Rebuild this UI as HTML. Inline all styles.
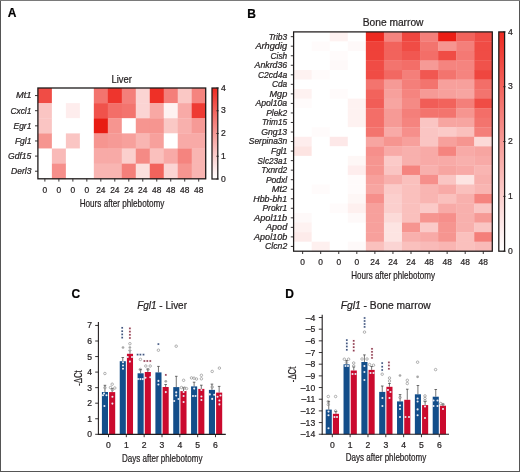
<!DOCTYPE html>
<html><head><meta charset="utf-8"><style>
html,body{margin:0;padding:0;background:#fff;}
body{width:520px;height:472px;overflow:hidden;}
svg{display:block;font-family:"Liberation Sans",sans-serif;will-change:transform;}
text{stroke:#231f20;stroke-width:0.22px;paint-order:stroke;}
</style></head><body>
<svg width="520" height="472" viewBox="0 0 520 472" fill="#231f20">
<rect x="0" y="0" width="520" height="472" fill="#fff"/>
<rect x="37.90" y="88.00" width="14.28" height="15.43" fill="#f04c45"/>
<rect x="51.88" y="88.00" width="14.28" height="15.43" fill="#ffffff"/>
<rect x="65.87" y="88.00" width="14.28" height="15.43" fill="#ffffff"/>
<rect x="79.85" y="88.00" width="14.28" height="15.43" fill="#ffffff"/>
<rect x="93.83" y="88.00" width="14.28" height="15.43" fill="#f3746e"/>
<rect x="107.82" y="88.00" width="14.28" height="15.43" fill="#ee352d"/>
<rect x="121.80" y="88.00" width="14.28" height="15.43" fill="#f47f7a"/>
<rect x="135.78" y="88.00" width="14.28" height="15.43" fill="#fbd4d3"/>
<rect x="149.77" y="88.00" width="14.28" height="15.43" fill="#ee3027"/>
<rect x="163.75" y="88.00" width="14.28" height="15.43" fill="#f47f7a"/>
<rect x="177.73" y="88.00" width="14.28" height="15.43" fill="#fac8c5"/>
<rect x="191.72" y="88.00" width="14.28" height="15.43" fill="#f5847f"/>
<rect x="37.90" y="103.13" width="14.28" height="15.43" fill="#fac5c3"/>
<rect x="51.88" y="103.13" width="14.28" height="15.43" fill="#ffffff"/>
<rect x="65.87" y="103.13" width="14.28" height="15.43" fill="#feeded"/>
<rect x="79.85" y="103.13" width="14.28" height="15.43" fill="#ffffff"/>
<rect x="93.83" y="103.13" width="14.28" height="15.43" fill="#f0524b"/>
<rect x="107.82" y="103.13" width="14.28" height="15.43" fill="#f36e68"/>
<rect x="121.80" y="103.13" width="14.28" height="15.43" fill="#f3746e"/>
<rect x="135.78" y="103.13" width="14.28" height="15.43" fill="#fbd4d3"/>
<rect x="149.77" y="103.13" width="14.28" height="15.43" fill="#f8a8a4"/>
<rect x="163.75" y="103.13" width="14.28" height="15.43" fill="#fef2f1"/>
<rect x="177.73" y="103.13" width="14.28" height="15.43" fill="#f8aaa7"/>
<rect x="191.72" y="103.13" width="14.28" height="15.43" fill="#ee3b33"/>
<rect x="37.90" y="118.27" width="14.28" height="15.43" fill="#fac5c3"/>
<rect x="51.88" y="118.27" width="14.28" height="15.43" fill="#ffffff"/>
<rect x="65.87" y="118.27" width="14.28" height="15.43" fill="#ffffff"/>
<rect x="79.85" y="118.27" width="14.28" height="15.43" fill="#ffffff"/>
<rect x="93.83" y="118.27" width="14.28" height="15.43" fill="#e81c13"/>
<rect x="107.82" y="118.27" width="14.28" height="15.43" fill="#f69590"/>
<rect x="121.80" y="118.27" width="14.28" height="15.43" fill="#ffffff"/>
<rect x="135.78" y="118.27" width="14.28" height="15.43" fill="#f69590"/>
<rect x="149.77" y="118.27" width="14.28" height="15.43" fill="#f69590"/>
<rect x="163.75" y="118.27" width="14.28" height="15.43" fill="#fac8c5"/>
<rect x="177.73" y="118.27" width="14.28" height="15.43" fill="#f8b0ad"/>
<rect x="191.72" y="118.27" width="14.28" height="15.43" fill="#f69a96"/>
<rect x="37.90" y="133.40" width="14.28" height="15.43" fill="#f69590"/>
<rect x="51.88" y="133.40" width="14.28" height="15.43" fill="#ffffff"/>
<rect x="65.87" y="133.40" width="14.28" height="15.43" fill="#fac5c3"/>
<rect x="79.85" y="133.40" width="14.28" height="15.43" fill="#ffffff"/>
<rect x="93.83" y="133.40" width="14.28" height="15.43" fill="#f69590"/>
<rect x="107.82" y="133.40" width="14.28" height="15.43" fill="#f69a96"/>
<rect x="121.80" y="133.40" width="14.28" height="15.43" fill="#f7a09c"/>
<rect x="135.78" y="133.40" width="14.28" height="15.43" fill="#f9b5b2"/>
<rect x="149.77" y="133.40" width="14.28" height="15.43" fill="#f7a09c"/>
<rect x="163.75" y="133.40" width="14.28" height="15.43" fill="#ffffff"/>
<rect x="177.73" y="133.40" width="14.28" height="15.43" fill="#f8aaa7"/>
<rect x="191.72" y="133.40" width="14.28" height="15.43" fill="#f8aaa7"/>
<rect x="37.90" y="148.53" width="14.28" height="15.43" fill="#ffffff"/>
<rect x="51.88" y="148.53" width="14.28" height="15.43" fill="#f9bab8"/>
<rect x="65.87" y="148.53" width="14.28" height="15.43" fill="#ffffff"/>
<rect x="79.85" y="148.53" width="14.28" height="15.43" fill="#ffffff"/>
<rect x="93.83" y="148.53" width="14.28" height="15.43" fill="#f8aaa7"/>
<rect x="107.82" y="148.53" width="14.28" height="15.43" fill="#f8aaa7"/>
<rect x="121.80" y="148.53" width="14.28" height="15.43" fill="#fbcfcd"/>
<rect x="135.78" y="148.53" width="14.28" height="15.43" fill="#f58a85"/>
<rect x="149.77" y="148.53" width="14.28" height="15.43" fill="#fac0bd"/>
<rect x="163.75" y="148.53" width="14.28" height="15.43" fill="#f8aaa7"/>
<rect x="177.73" y="148.53" width="14.28" height="15.43" fill="#f5847f"/>
<rect x="191.72" y="148.53" width="14.28" height="15.43" fill="#f9b5b2"/>
<rect x="37.90" y="163.67" width="14.28" height="15.43" fill="#ffffff"/>
<rect x="51.88" y="163.67" width="14.28" height="15.43" fill="#f68f8b"/>
<rect x="65.87" y="163.67" width="14.28" height="15.43" fill="#ffffff"/>
<rect x="79.85" y="163.67" width="14.28" height="15.43" fill="#ffffff"/>
<rect x="93.83" y="163.67" width="14.28" height="15.43" fill="#f9b5b2"/>
<rect x="107.82" y="163.67" width="14.28" height="15.43" fill="#f9b5b2"/>
<rect x="121.80" y="163.67" width="14.28" height="15.43" fill="#f47f7a"/>
<rect x="135.78" y="163.67" width="14.28" height="15.43" fill="#fcdfdd"/>
<rect x="149.77" y="163.67" width="14.28" height="15.43" fill="#f2635c"/>
<rect x="163.75" y="163.67" width="14.28" height="15.43" fill="#fbd4d3"/>
<rect x="177.73" y="163.67" width="14.28" height="15.43" fill="#f69590"/>
<rect x="191.72" y="163.67" width="14.28" height="15.43" fill="#f9b5b2"/>
<rect x="37.90" y="88.00" width="167.80" height="90.80" fill="none" stroke="#1e1a1a" stroke-width="1.3"/>
<line x1="35.00" y1="95.57" x2="37.90" y2="95.57" stroke="#231f20" stroke-width="0.9"/>
<text x="15.90" y="98.47" font-size="8.4" text-anchor="start" font-style="italic" textLength="15.50" lengthAdjust="spacingAndGlyphs">Mt1</text>
<line x1="35.00" y1="110.70" x2="37.90" y2="110.70" stroke="#231f20" stroke-width="0.9"/>
<text x="10.40" y="113.60" font-size="8.4" text-anchor="start" font-style="italic" textLength="21.00" lengthAdjust="spacingAndGlyphs">Cxcl1</text>
<line x1="35.00" y1="125.83" x2="37.90" y2="125.83" stroke="#231f20" stroke-width="0.9"/>
<text x="13.50" y="128.73" font-size="8.4" text-anchor="start" font-style="italic" textLength="17.90" lengthAdjust="spacingAndGlyphs">Egr1</text>
<line x1="35.00" y1="140.97" x2="37.90" y2="140.97" stroke="#231f20" stroke-width="0.9"/>
<text x="14.90" y="143.87" font-size="8.4" text-anchor="start" font-style="italic" textLength="16.50" lengthAdjust="spacingAndGlyphs">Fgl1</text>
<line x1="35.00" y1="156.10" x2="37.90" y2="156.10" stroke="#231f20" stroke-width="0.9"/>
<text x="8.00" y="159.00" font-size="8.4" text-anchor="start" font-style="italic" textLength="23.40" lengthAdjust="spacingAndGlyphs">Gdf15</text>
<line x1="35.00" y1="171.23" x2="37.90" y2="171.23" stroke="#231f20" stroke-width="0.9"/>
<text x="11.00" y="174.13" font-size="8.4" text-anchor="start" font-style="italic" textLength="20.40" lengthAdjust="spacingAndGlyphs">Derl3</text>
<line x1="44.89" y1="178.80" x2="44.89" y2="181.60" stroke="#231f20" stroke-width="0.9"/>
<text x="44.89" y="192.80" font-size="8.4" text-anchor="middle">0</text>
<line x1="58.88" y1="178.80" x2="58.88" y2="181.60" stroke="#231f20" stroke-width="0.9"/>
<text x="58.88" y="192.80" font-size="8.4" text-anchor="middle">0</text>
<line x1="72.86" y1="178.80" x2="72.86" y2="181.60" stroke="#231f20" stroke-width="0.9"/>
<text x="72.86" y="192.80" font-size="8.4" text-anchor="middle">0</text>
<line x1="86.84" y1="178.80" x2="86.84" y2="181.60" stroke="#231f20" stroke-width="0.9"/>
<text x="86.84" y="192.80" font-size="8.4" text-anchor="middle">0</text>
<line x1="100.82" y1="178.80" x2="100.82" y2="181.60" stroke="#231f20" stroke-width="0.9"/>
<text x="100.82" y="192.80" font-size="8.4" text-anchor="middle">24</text>
<line x1="114.81" y1="178.80" x2="114.81" y2="181.60" stroke="#231f20" stroke-width="0.9"/>
<text x="114.81" y="192.80" font-size="8.4" text-anchor="middle">24</text>
<line x1="128.79" y1="178.80" x2="128.79" y2="181.60" stroke="#231f20" stroke-width="0.9"/>
<text x="128.79" y="192.80" font-size="8.4" text-anchor="middle">24</text>
<line x1="142.78" y1="178.80" x2="142.78" y2="181.60" stroke="#231f20" stroke-width="0.9"/>
<text x="142.78" y="192.80" font-size="8.4" text-anchor="middle">24</text>
<line x1="156.76" y1="178.80" x2="156.76" y2="181.60" stroke="#231f20" stroke-width="0.9"/>
<text x="156.76" y="192.80" font-size="8.4" text-anchor="middle">48</text>
<line x1="170.74" y1="178.80" x2="170.74" y2="181.60" stroke="#231f20" stroke-width="0.9"/>
<text x="170.74" y="192.80" font-size="8.4" text-anchor="middle">48</text>
<line x1="184.72" y1="178.80" x2="184.72" y2="181.60" stroke="#231f20" stroke-width="0.9"/>
<text x="184.72" y="192.80" font-size="8.4" text-anchor="middle">48</text>
<line x1="198.71" y1="178.80" x2="198.71" y2="181.60" stroke="#231f20" stroke-width="0.9"/>
<text x="198.71" y="192.80" font-size="8.4" text-anchor="middle">48</text>
<text x="122.00" y="206.60" font-size="10.2" text-anchor="middle" textLength="84.70" lengthAdjust="spacingAndGlyphs">Hours after phlebotomy</text>
<text x="121.70" y="83.00" font-size="10.0" text-anchor="middle" textLength="20.40" lengthAdjust="spacingAndGlyphs">Liver</text>
<defs><linearGradient id="cg" x1="0" y1="1" x2="0" y2="0"><stop offset="0.000" stop-color="#ffffff"/><stop offset="0.062" stop-color="#fef4f4"/><stop offset="0.125" stop-color="#fde8e8"/><stop offset="0.188" stop-color="#fcdcdb"/><stop offset="0.250" stop-color="#fbcfcd"/><stop offset="0.312" stop-color="#fac2c0"/><stop offset="0.375" stop-color="#f9b5b2"/><stop offset="0.438" stop-color="#f8a8a4"/><stop offset="0.500" stop-color="#f69a96"/><stop offset="0.562" stop-color="#f58c88"/><stop offset="0.625" stop-color="#f47f7a"/><stop offset="0.688" stop-color="#f3716b"/><stop offset="0.750" stop-color="#f2635c"/><stop offset="0.812" stop-color="#f1554e"/><stop offset="0.875" stop-color="#ef463f"/><stop offset="0.938" stop-color="#ee3830"/><stop offset="1.000" stop-color="#ed2a21"/></linearGradient></defs>
<rect x="212.0" y="88.0" width="5.800000000000011" height="91.0" fill="url(#cg)" stroke="#1e1a1a" stroke-width="1.25"/>
<line x1="216.30" y1="179.00" x2="218.80" y2="179.00" stroke="#231f20" stroke-width="0.8"/>
<text x="221.00" y="181.70" font-size="8.6" text-anchor="start">0</text>
<line x1="216.30" y1="156.25" x2="218.80" y2="156.25" stroke="#231f20" stroke-width="0.8"/>
<text x="221.00" y="158.95" font-size="8.6" text-anchor="start">1</text>
<line x1="216.30" y1="133.50" x2="218.80" y2="133.50" stroke="#231f20" stroke-width="0.8"/>
<text x="221.00" y="136.20" font-size="8.6" text-anchor="start">2</text>
<line x1="216.30" y1="110.75" x2="218.80" y2="110.75" stroke="#231f20" stroke-width="0.8"/>
<text x="221.00" y="113.45" font-size="8.6" text-anchor="start">3</text>
<line x1="216.30" y1="88.00" x2="218.80" y2="88.00" stroke="#231f20" stroke-width="0.8"/>
<text x="221.00" y="90.70" font-size="8.6" text-anchor="start">4</text>
<text x="7.70" y="17.40" font-size="12" text-anchor="start" font-weight="bold" fill="#000">A</text>
<rect x="293.60" y="31.90" width="18.36" height="9.83" fill="#ffffff"/>
<rect x="311.66" y="31.90" width="18.36" height="9.83" fill="#ffffff"/>
<rect x="329.73" y="31.90" width="18.36" height="9.83" fill="#fef2f1"/>
<rect x="347.79" y="31.90" width="18.36" height="9.83" fill="#ffffff"/>
<rect x="365.85" y="31.90" width="18.36" height="9.83" fill="#ed2a21"/>
<rect x="383.92" y="31.90" width="18.36" height="9.83" fill="#f5847f"/>
<rect x="401.98" y="31.90" width="18.36" height="9.83" fill="#ef463f"/>
<rect x="420.05" y="31.90" width="18.36" height="9.83" fill="#f47f7a"/>
<rect x="438.11" y="31.90" width="18.36" height="9.83" fill="#ec1e15"/>
<rect x="456.17" y="31.90" width="18.36" height="9.83" fill="#f2635c"/>
<rect x="474.24" y="31.90" width="18.36" height="9.83" fill="#f04c45"/>
<rect x="293.60" y="41.43" width="18.36" height="9.83" fill="#ffffff"/>
<rect x="311.66" y="41.43" width="18.36" height="9.83" fill="#fffbfb"/>
<rect x="329.73" y="41.43" width="18.36" height="9.83" fill="#ffffff"/>
<rect x="347.79" y="41.43" width="18.36" height="9.83" fill="#fef9f9"/>
<rect x="365.85" y="41.43" width="18.36" height="9.83" fill="#ef4139"/>
<rect x="383.92" y="41.43" width="18.36" height="9.83" fill="#f2635c"/>
<rect x="401.98" y="41.43" width="18.36" height="9.83" fill="#f04c45"/>
<rect x="420.05" y="41.43" width="18.36" height="9.83" fill="#f3746e"/>
<rect x="438.11" y="41.43" width="18.36" height="9.83" fill="#f69590"/>
<rect x="456.17" y="41.43" width="18.36" height="9.83" fill="#f47f7a"/>
<rect x="474.24" y="41.43" width="18.36" height="9.83" fill="#f04c45"/>
<rect x="293.60" y="50.97" width="18.36" height="9.83" fill="#ffffff"/>
<rect x="311.66" y="50.97" width="18.36" height="9.83" fill="#ffffff"/>
<rect x="329.73" y="50.97" width="18.36" height="9.83" fill="#fffbfb"/>
<rect x="347.79" y="50.97" width="18.36" height="9.83" fill="#ffffff"/>
<rect x="365.85" y="50.97" width="18.36" height="9.83" fill="#ef4139"/>
<rect x="383.92" y="50.97" width="18.36" height="9.83" fill="#f2635c"/>
<rect x="401.98" y="50.97" width="18.36" height="9.83" fill="#f15751"/>
<rect x="420.05" y="50.97" width="18.36" height="9.83" fill="#f36e68"/>
<rect x="438.11" y="50.97" width="18.36" height="9.83" fill="#f04c45"/>
<rect x="456.17" y="50.97" width="18.36" height="9.83" fill="#f47974"/>
<rect x="474.24" y="50.97" width="18.36" height="9.83" fill="#f04c45"/>
<rect x="293.60" y="60.50" width="18.36" height="9.83" fill="#ffffff"/>
<rect x="311.66" y="60.50" width="18.36" height="9.83" fill="#ffffff"/>
<rect x="329.73" y="60.50" width="18.36" height="9.83" fill="#fef9f9"/>
<rect x="347.79" y="60.50" width="18.36" height="9.83" fill="#ffffff"/>
<rect x="365.85" y="60.50" width="18.36" height="9.83" fill="#f04c45"/>
<rect x="383.92" y="60.50" width="18.36" height="9.83" fill="#f3746e"/>
<rect x="401.98" y="60.50" width="18.36" height="9.83" fill="#f36e68"/>
<rect x="420.05" y="60.50" width="18.36" height="9.83" fill="#f69a96"/>
<rect x="438.11" y="60.50" width="18.36" height="9.83" fill="#f5847f"/>
<rect x="456.17" y="60.50" width="18.36" height="9.83" fill="#f5847f"/>
<rect x="474.24" y="60.50" width="18.36" height="9.83" fill="#f0524b"/>
<rect x="293.60" y="70.04" width="18.36" height="9.83" fill="#fef2f1"/>
<rect x="311.66" y="70.04" width="18.36" height="9.83" fill="#fffbfb"/>
<rect x="329.73" y="70.04" width="18.36" height="9.83" fill="#ffffff"/>
<rect x="347.79" y="70.04" width="18.36" height="9.83" fill="#ffffff"/>
<rect x="365.85" y="70.04" width="18.36" height="9.83" fill="#f04c45"/>
<rect x="383.92" y="70.04" width="18.36" height="9.83" fill="#f26862"/>
<rect x="401.98" y="70.04" width="18.36" height="9.83" fill="#f47f7a"/>
<rect x="420.05" y="70.04" width="18.36" height="9.83" fill="#f15751"/>
<rect x="438.11" y="70.04" width="18.36" height="9.83" fill="#f3746e"/>
<rect x="456.17" y="70.04" width="18.36" height="9.83" fill="#f5847f"/>
<rect x="474.24" y="70.04" width="18.36" height="9.83" fill="#ef463f"/>
<rect x="293.60" y="79.57" width="18.36" height="9.83" fill="#ffffff"/>
<rect x="311.66" y="79.57" width="18.36" height="9.83" fill="#ffffff"/>
<rect x="329.73" y="79.57" width="18.36" height="9.83" fill="#ffffff"/>
<rect x="347.79" y="79.57" width="18.36" height="9.83" fill="#ffffff"/>
<rect x="365.85" y="79.57" width="18.36" height="9.83" fill="#f3746e"/>
<rect x="383.92" y="79.57" width="18.36" height="9.83" fill="#f69a96"/>
<rect x="401.98" y="79.57" width="18.36" height="9.83" fill="#f47f7a"/>
<rect x="420.05" y="79.57" width="18.36" height="9.83" fill="#f3746e"/>
<rect x="438.11" y="79.57" width="18.36" height="9.83" fill="#f7a09c"/>
<rect x="456.17" y="79.57" width="18.36" height="9.83" fill="#f7a09c"/>
<rect x="474.24" y="79.57" width="18.36" height="9.83" fill="#f36e68"/>
<rect x="293.60" y="89.11" width="18.36" height="9.83" fill="#fef2f1"/>
<rect x="311.66" y="89.11" width="18.36" height="9.83" fill="#ffffff"/>
<rect x="329.73" y="89.11" width="18.36" height="9.83" fill="#fffbfb"/>
<rect x="347.79" y="89.11" width="18.36" height="9.83" fill="#ffffff"/>
<rect x="365.85" y="89.11" width="18.36" height="9.83" fill="#f2635c"/>
<rect x="383.92" y="89.11" width="18.36" height="9.83" fill="#f7a09c"/>
<rect x="401.98" y="89.11" width="18.36" height="9.83" fill="#f5847f"/>
<rect x="420.05" y="89.11" width="18.36" height="9.83" fill="#f69a96"/>
<rect x="438.11" y="89.11" width="18.36" height="9.83" fill="#f7a09c"/>
<rect x="456.17" y="89.11" width="18.36" height="9.83" fill="#f7a5a1"/>
<rect x="474.24" y="89.11" width="18.36" height="9.83" fill="#f3746e"/>
<rect x="293.60" y="98.64" width="18.36" height="9.83" fill="#fffbfb"/>
<rect x="311.66" y="98.64" width="18.36" height="9.83" fill="#ffffff"/>
<rect x="329.73" y="98.64" width="18.36" height="9.83" fill="#ffffff"/>
<rect x="347.79" y="98.64" width="18.36" height="9.83" fill="#fef2f1"/>
<rect x="365.85" y="98.64" width="18.36" height="9.83" fill="#f15d57"/>
<rect x="383.92" y="98.64" width="18.36" height="9.83" fill="#f7a5a1"/>
<rect x="401.98" y="98.64" width="18.36" height="9.83" fill="#f58a85"/>
<rect x="420.05" y="98.64" width="18.36" height="9.83" fill="#f15d57"/>
<rect x="438.11" y="98.64" width="18.36" height="9.83" fill="#f2635c"/>
<rect x="456.17" y="98.64" width="18.36" height="9.83" fill="#f47f7a"/>
<rect x="474.24" y="98.64" width="18.36" height="9.83" fill="#f04c45"/>
<rect x="293.60" y="108.18" width="18.36" height="9.83" fill="#ffffff"/>
<rect x="311.66" y="108.18" width="18.36" height="9.83" fill="#ffffff"/>
<rect x="329.73" y="108.18" width="18.36" height="9.83" fill="#ffffff"/>
<rect x="347.79" y="108.18" width="18.36" height="9.83" fill="#fef2f1"/>
<rect x="365.85" y="108.18" width="18.36" height="9.83" fill="#f36e68"/>
<rect x="383.92" y="108.18" width="18.36" height="9.83" fill="#f69a96"/>
<rect x="401.98" y="108.18" width="18.36" height="9.83" fill="#f47f7a"/>
<rect x="420.05" y="108.18" width="18.36" height="9.83" fill="#f3746e"/>
<rect x="438.11" y="108.18" width="18.36" height="9.83" fill="#f3746e"/>
<rect x="456.17" y="108.18" width="18.36" height="9.83" fill="#f69590"/>
<rect x="474.24" y="108.18" width="18.36" height="9.83" fill="#f36e68"/>
<rect x="293.60" y="117.71" width="18.36" height="9.83" fill="#ffffff"/>
<rect x="311.66" y="117.71" width="18.36" height="9.83" fill="#ffffff"/>
<rect x="329.73" y="117.71" width="18.36" height="9.83" fill="#ffffff"/>
<rect x="347.79" y="117.71" width="18.36" height="9.83" fill="#fef2f1"/>
<rect x="365.85" y="117.71" width="18.36" height="9.83" fill="#f36e68"/>
<rect x="383.92" y="117.71" width="18.36" height="9.83" fill="#f69a96"/>
<rect x="401.98" y="117.71" width="18.36" height="9.83" fill="#f5847f"/>
<rect x="420.05" y="117.71" width="18.36" height="9.83" fill="#fac5c3"/>
<rect x="438.11" y="117.71" width="18.36" height="9.83" fill="#f7a5a1"/>
<rect x="456.17" y="117.71" width="18.36" height="9.83" fill="#f7a5a1"/>
<rect x="474.24" y="117.71" width="18.36" height="9.83" fill="#f3746e"/>
<rect x="293.60" y="127.25" width="18.36" height="9.83" fill="#ffffff"/>
<rect x="311.66" y="127.25" width="18.36" height="9.83" fill="#fffbfb"/>
<rect x="329.73" y="127.25" width="18.36" height="9.83" fill="#ffffff"/>
<rect x="347.79" y="127.25" width="18.36" height="9.83" fill="#ffffff"/>
<rect x="365.85" y="127.25" width="18.36" height="9.83" fill="#f3746e"/>
<rect x="383.92" y="127.25" width="18.36" height="9.83" fill="#f8aaa7"/>
<rect x="401.98" y="127.25" width="18.36" height="9.83" fill="#f68f8b"/>
<rect x="420.05" y="127.25" width="18.36" height="9.83" fill="#fac5c3"/>
<rect x="438.11" y="127.25" width="18.36" height="9.83" fill="#fbcac8"/>
<rect x="456.17" y="127.25" width="18.36" height="9.83" fill="#fac0bd"/>
<rect x="474.24" y="127.25" width="18.36" height="9.83" fill="#f47f7a"/>
<rect x="293.60" y="136.78" width="18.36" height="9.83" fill="#feeded"/>
<rect x="311.66" y="136.78" width="18.36" height="9.83" fill="#ffffff"/>
<rect x="329.73" y="136.78" width="18.36" height="9.83" fill="#fde8e8"/>
<rect x="347.79" y="136.78" width="18.36" height="9.83" fill="#ffffff"/>
<rect x="365.85" y="136.78" width="18.36" height="9.83" fill="#f7a5a1"/>
<rect x="383.92" y="136.78" width="18.36" height="9.83" fill="#f69590"/>
<rect x="401.98" y="136.78" width="18.36" height="9.83" fill="#f7a09c"/>
<rect x="420.05" y="136.78" width="18.36" height="9.83" fill="#fac5c3"/>
<rect x="438.11" y="136.78" width="18.36" height="9.83" fill="#f7a09c"/>
<rect x="456.17" y="136.78" width="18.36" height="9.83" fill="#f69590"/>
<rect x="474.24" y="136.78" width="18.36" height="9.83" fill="#fcdad8"/>
<rect x="293.60" y="146.32" width="18.36" height="9.83" fill="#fde4e2"/>
<rect x="311.66" y="146.32" width="18.36" height="9.83" fill="#ffffff"/>
<rect x="329.73" y="146.32" width="18.36" height="9.83" fill="#ffffff"/>
<rect x="347.79" y="146.32" width="18.36" height="9.83" fill="#ffffff"/>
<rect x="365.85" y="146.32" width="18.36" height="9.83" fill="#f68f8b"/>
<rect x="383.92" y="146.32" width="18.36" height="9.83" fill="#f8aaa7"/>
<rect x="401.98" y="146.32" width="18.36" height="9.83" fill="#f8b0ad"/>
<rect x="420.05" y="146.32" width="18.36" height="9.83" fill="#f8aaa7"/>
<rect x="438.11" y="146.32" width="18.36" height="9.83" fill="#f5847f"/>
<rect x="456.17" y="146.32" width="18.36" height="9.83" fill="#f8aaa7"/>
<rect x="474.24" y="146.32" width="18.36" height="9.83" fill="#f7a5a1"/>
<rect x="293.60" y="155.85" width="18.36" height="9.83" fill="#ffffff"/>
<rect x="311.66" y="155.85" width="18.36" height="9.83" fill="#ffffff"/>
<rect x="329.73" y="155.85" width="18.36" height="9.83" fill="#ffffff"/>
<rect x="347.79" y="155.85" width="18.36" height="9.83" fill="#fef7f6"/>
<rect x="365.85" y="155.85" width="18.36" height="9.83" fill="#f69590"/>
<rect x="383.92" y="155.85" width="18.36" height="9.83" fill="#fbcac8"/>
<rect x="401.98" y="155.85" width="18.36" height="9.83" fill="#f8b0ad"/>
<rect x="420.05" y="155.85" width="18.36" height="9.83" fill="#f8aaa7"/>
<rect x="438.11" y="155.85" width="18.36" height="9.83" fill="#f8aaa7"/>
<rect x="456.17" y="155.85" width="18.36" height="9.83" fill="#f8b0ad"/>
<rect x="474.24" y="155.85" width="18.36" height="9.83" fill="#f8aaa7"/>
<rect x="293.60" y="165.39" width="18.36" height="9.83" fill="#ffffff"/>
<rect x="311.66" y="165.39" width="18.36" height="9.83" fill="#ffffff"/>
<rect x="329.73" y="165.39" width="18.36" height="9.83" fill="#ffffff"/>
<rect x="347.79" y="165.39" width="18.36" height="9.83" fill="#feeded"/>
<rect x="365.85" y="165.39" width="18.36" height="9.83" fill="#f69590"/>
<rect x="383.92" y="165.39" width="18.36" height="9.83" fill="#fac5c3"/>
<rect x="401.98" y="165.39" width="18.36" height="9.83" fill="#f5847f"/>
<rect x="420.05" y="165.39" width="18.36" height="9.83" fill="#f8b0ad"/>
<rect x="438.11" y="165.39" width="18.36" height="9.83" fill="#f7a5a1"/>
<rect x="456.17" y="165.39" width="18.36" height="9.83" fill="#f8aaa7"/>
<rect x="474.24" y="165.39" width="18.36" height="9.83" fill="#f9b5b2"/>
<rect x="293.60" y="174.92" width="18.36" height="9.83" fill="#ffffff"/>
<rect x="311.66" y="174.92" width="18.36" height="9.83" fill="#ffffff"/>
<rect x="329.73" y="174.92" width="18.36" height="9.83" fill="#ffffff"/>
<rect x="347.79" y="174.92" width="18.36" height="9.83" fill="#fffbfb"/>
<rect x="365.85" y="174.92" width="18.36" height="9.83" fill="#f7a09c"/>
<rect x="383.92" y="174.92" width="18.36" height="9.83" fill="#f8b0ad"/>
<rect x="401.98" y="174.92" width="18.36" height="9.83" fill="#fac0bd"/>
<rect x="420.05" y="174.92" width="18.36" height="9.83" fill="#f68f8b"/>
<rect x="438.11" y="174.92" width="18.36" height="9.83" fill="#fac5c3"/>
<rect x="456.17" y="174.92" width="18.36" height="9.83" fill="#fde4e2"/>
<rect x="474.24" y="174.92" width="18.36" height="9.83" fill="#f8b0ad"/>
<rect x="293.60" y="184.46" width="18.36" height="9.83" fill="#ffffff"/>
<rect x="311.66" y="184.46" width="18.36" height="9.83" fill="#fffbfb"/>
<rect x="329.73" y="184.46" width="18.36" height="9.83" fill="#ffffff"/>
<rect x="347.79" y="184.46" width="18.36" height="9.83" fill="#fffbfb"/>
<rect x="365.85" y="184.46" width="18.36" height="9.83" fill="#f7a5a1"/>
<rect x="383.92" y="184.46" width="18.36" height="9.83" fill="#fbcac8"/>
<rect x="401.98" y="184.46" width="18.36" height="9.83" fill="#fac0bd"/>
<rect x="420.05" y="184.46" width="18.36" height="9.83" fill="#f9b5b2"/>
<rect x="438.11" y="184.46" width="18.36" height="9.83" fill="#f8aaa7"/>
<rect x="456.17" y="184.46" width="18.36" height="9.83" fill="#fac0bd"/>
<rect x="474.24" y="184.46" width="18.36" height="9.83" fill="#f9b5b2"/>
<rect x="293.60" y="193.99" width="18.36" height="9.83" fill="#ffffff"/>
<rect x="311.66" y="193.99" width="18.36" height="9.83" fill="#ffffff"/>
<rect x="329.73" y="193.99" width="18.36" height="9.83" fill="#ffffff"/>
<rect x="347.79" y="193.99" width="18.36" height="9.83" fill="#fef7f6"/>
<rect x="365.85" y="193.99" width="18.36" height="9.83" fill="#f68f8b"/>
<rect x="383.92" y="193.99" width="18.36" height="9.83" fill="#fbcfcd"/>
<rect x="401.98" y="193.99" width="18.36" height="9.83" fill="#fac0bd"/>
<rect x="420.05" y="193.99" width="18.36" height="9.83" fill="#f9b5b2"/>
<rect x="438.11" y="193.99" width="18.36" height="9.83" fill="#fac0bd"/>
<rect x="456.17" y="193.99" width="18.36" height="9.83" fill="#f8b0ad"/>
<rect x="474.24" y="193.99" width="18.36" height="9.83" fill="#f5847f"/>
<rect x="293.60" y="203.53" width="18.36" height="9.83" fill="#ffffff"/>
<rect x="311.66" y="203.53" width="18.36" height="9.83" fill="#ffffff"/>
<rect x="329.73" y="203.53" width="18.36" height="9.83" fill="#fffbfb"/>
<rect x="347.79" y="203.53" width="18.36" height="9.83" fill="#fef0ef"/>
<rect x="365.85" y="203.53" width="18.36" height="9.83" fill="#f7a09c"/>
<rect x="383.92" y="203.53" width="18.36" height="9.83" fill="#fbcfcd"/>
<rect x="401.98" y="203.53" width="18.36" height="9.83" fill="#fac0bd"/>
<rect x="420.05" y="203.53" width="18.36" height="9.83" fill="#fbcac8"/>
<rect x="438.11" y="203.53" width="18.36" height="9.83" fill="#f8aaa7"/>
<rect x="456.17" y="203.53" width="18.36" height="9.83" fill="#f8b0ad"/>
<rect x="474.24" y="203.53" width="18.36" height="9.83" fill="#fac5c3"/>
<rect x="293.60" y="213.06" width="18.36" height="9.83" fill="#fef9f9"/>
<rect x="311.66" y="213.06" width="18.36" height="9.83" fill="#ffffff"/>
<rect x="329.73" y="213.06" width="18.36" height="9.83" fill="#ffffff"/>
<rect x="347.79" y="213.06" width="18.36" height="9.83" fill="#fef9f9"/>
<rect x="365.85" y="213.06" width="18.36" height="9.83" fill="#f7a09c"/>
<rect x="383.92" y="213.06" width="18.36" height="9.83" fill="#fcdad8"/>
<rect x="401.98" y="213.06" width="18.36" height="9.83" fill="#fac0bd"/>
<rect x="420.05" y="213.06" width="18.36" height="9.83" fill="#f69590"/>
<rect x="438.11" y="213.06" width="18.36" height="9.83" fill="#f68f8b"/>
<rect x="456.17" y="213.06" width="18.36" height="9.83" fill="#f8b0ad"/>
<rect x="474.24" y="213.06" width="18.36" height="9.83" fill="#f69a96"/>
<rect x="293.60" y="222.60" width="18.36" height="9.83" fill="#fef2f1"/>
<rect x="311.66" y="222.60" width="18.36" height="9.83" fill="#ffffff"/>
<rect x="329.73" y="222.60" width="18.36" height="9.83" fill="#ffffff"/>
<rect x="347.79" y="222.60" width="18.36" height="9.83" fill="#ffffff"/>
<rect x="365.85" y="222.60" width="18.36" height="9.83" fill="#f7a09c"/>
<rect x="383.92" y="222.60" width="18.36" height="9.83" fill="#fde4e2"/>
<rect x="401.98" y="222.60" width="18.36" height="9.83" fill="#f69590"/>
<rect x="420.05" y="222.60" width="18.36" height="9.83" fill="#fbcac8"/>
<rect x="438.11" y="222.60" width="18.36" height="9.83" fill="#f69590"/>
<rect x="456.17" y="222.60" width="18.36" height="9.83" fill="#f8b0ad"/>
<rect x="474.24" y="222.60" width="18.36" height="9.83" fill="#fac5c3"/>
<rect x="293.60" y="232.13" width="18.36" height="9.83" fill="#fdebea"/>
<rect x="311.66" y="232.13" width="18.36" height="9.83" fill="#ffffff"/>
<rect x="329.73" y="232.13" width="18.36" height="9.83" fill="#ffffff"/>
<rect x="347.79" y="232.13" width="18.36" height="9.83" fill="#ffffff"/>
<rect x="365.85" y="232.13" width="18.36" height="9.83" fill="#f7a09c"/>
<rect x="383.92" y="232.13" width="18.36" height="9.83" fill="#fde4e2"/>
<rect x="401.98" y="232.13" width="18.36" height="9.83" fill="#f8b0ad"/>
<rect x="420.05" y="232.13" width="18.36" height="9.83" fill="#f8aaa7"/>
<rect x="438.11" y="232.13" width="18.36" height="9.83" fill="#f69590"/>
<rect x="456.17" y="232.13" width="18.36" height="9.83" fill="#fac0bd"/>
<rect x="474.24" y="232.13" width="18.36" height="9.83" fill="#f47f7a"/>
<rect x="293.60" y="241.67" width="18.36" height="9.83" fill="#ffffff"/>
<rect x="311.66" y="241.67" width="18.36" height="9.83" fill="#fef0ef"/>
<rect x="329.73" y="241.67" width="18.36" height="9.83" fill="#ffffff"/>
<rect x="347.79" y="241.67" width="18.36" height="9.83" fill="#fef9f9"/>
<rect x="365.85" y="241.67" width="18.36" height="9.83" fill="#fac0bd"/>
<rect x="383.92" y="241.67" width="18.36" height="9.83" fill="#fbd4d3"/>
<rect x="401.98" y="241.67" width="18.36" height="9.83" fill="#fac0bd"/>
<rect x="420.05" y="241.67" width="18.36" height="9.83" fill="#f9bab8"/>
<rect x="438.11" y="241.67" width="18.36" height="9.83" fill="#f9b5b2"/>
<rect x="456.17" y="241.67" width="18.36" height="9.83" fill="#fac0bd"/>
<rect x="474.24" y="241.67" width="18.36" height="9.83" fill="#f9bab8"/>
<rect x="293.60" y="31.90" width="198.70" height="219.30" fill="none" stroke="#1e1a1a" stroke-width="1.25"/>
<line x1="290.80" y1="36.67" x2="293.60" y2="36.67" stroke="#231f20" stroke-width="0.9"/>
<text x="268.70" y="39.57" font-size="8.4" text-anchor="start" font-style="italic" textLength="18.50" lengthAdjust="spacingAndGlyphs">Trib3</text>
<line x1="290.80" y1="46.20" x2="293.60" y2="46.20" stroke="#231f20" stroke-width="0.9"/>
<text x="255.40" y="49.10" font-size="8.4" text-anchor="start" font-style="italic" textLength="31.80" lengthAdjust="spacingAndGlyphs">Arhgdig</text>
<line x1="290.80" y1="55.74" x2="293.60" y2="55.74" stroke="#231f20" stroke-width="0.9"/>
<text x="270.60" y="58.64" font-size="8.4" text-anchor="start" font-style="italic" textLength="16.60" lengthAdjust="spacingAndGlyphs">Cish</text>
<line x1="290.80" y1="65.27" x2="293.60" y2="65.27" stroke="#231f20" stroke-width="0.9"/>
<text x="254.60" y="68.17" font-size="8.4" text-anchor="start" font-style="italic" textLength="32.60" lengthAdjust="spacingAndGlyphs">Ankrd36</text>
<line x1="290.80" y1="74.81" x2="293.60" y2="74.81" stroke="#231f20" stroke-width="0.9"/>
<text x="257.90" y="77.71" font-size="8.4" text-anchor="start" font-style="italic" textLength="29.30" lengthAdjust="spacingAndGlyphs">C2cd4a</text>
<line x1="290.80" y1="84.34" x2="293.60" y2="84.34" stroke="#231f20" stroke-width="0.9"/>
<text x="272.00" y="87.24" font-size="8.4" text-anchor="start" font-style="italic" textLength="15.20" lengthAdjust="spacingAndGlyphs">Cda</text>
<line x1="290.80" y1="93.88" x2="293.60" y2="93.88" stroke="#231f20" stroke-width="0.9"/>
<text x="269.50" y="96.78" font-size="8.4" text-anchor="start" font-style="italic" textLength="17.70" lengthAdjust="spacingAndGlyphs">Mgp</text>
<line x1="290.80" y1="103.41" x2="293.60" y2="103.41" stroke="#231f20" stroke-width="0.9"/>
<text x="255.40" y="106.31" font-size="8.4" text-anchor="start" font-style="italic" textLength="31.80" lengthAdjust="spacingAndGlyphs">Apol10a</text>
<line x1="290.80" y1="112.95" x2="293.60" y2="112.95" stroke="#231f20" stroke-width="0.9"/>
<text x="266.20" y="115.85" font-size="8.4" text-anchor="start" font-style="italic" textLength="21.00" lengthAdjust="spacingAndGlyphs">Plek2</text>
<line x1="290.80" y1="122.48" x2="293.60" y2="122.48" stroke="#231f20" stroke-width="0.9"/>
<text x="262.00" y="125.38" font-size="8.4" text-anchor="start" font-style="italic" textLength="25.20" lengthAdjust="spacingAndGlyphs">Trim15</text>
<line x1="290.80" y1="132.02" x2="293.60" y2="132.02" stroke="#231f20" stroke-width="0.9"/>
<text x="261.20" y="134.92" font-size="8.4" text-anchor="start" font-style="italic" textLength="26.00" lengthAdjust="spacingAndGlyphs">Gng13</text>
<line x1="290.80" y1="141.55" x2="293.60" y2="141.55" stroke="#231f20" stroke-width="0.9"/>
<text x="248.80" y="144.45" font-size="8.4" text-anchor="start" font-style="italic" textLength="38.40" lengthAdjust="spacingAndGlyphs">Serpina3n</text>
<line x1="290.80" y1="151.08" x2="293.60" y2="151.08" stroke="#231f20" stroke-width="0.9"/>
<text x="271.10" y="153.98" font-size="8.4" text-anchor="start" font-style="italic" textLength="16.10" lengthAdjust="spacingAndGlyphs">Fgl1</text>
<line x1="290.80" y1="160.62" x2="293.60" y2="160.62" stroke="#231f20" stroke-width="0.9"/>
<text x="257.60" y="163.52" font-size="8.4" text-anchor="start" font-style="italic" textLength="29.60" lengthAdjust="spacingAndGlyphs">Slc23a1</text>
<line x1="290.80" y1="170.15" x2="293.60" y2="170.15" stroke="#231f20" stroke-width="0.9"/>
<text x="261.20" y="173.05" font-size="8.4" text-anchor="start" font-style="italic" textLength="26.00" lengthAdjust="spacingAndGlyphs">Txnrd2</text>
<line x1="290.80" y1="179.69" x2="293.60" y2="179.69" stroke="#231f20" stroke-width="0.9"/>
<text x="265.90" y="182.59" font-size="8.4" text-anchor="start" font-style="italic" textLength="21.30" lengthAdjust="spacingAndGlyphs">Podxl</text>
<line x1="290.80" y1="189.22" x2="293.60" y2="189.22" stroke="#231f20" stroke-width="0.9"/>
<text x="271.70" y="192.12" font-size="8.4" text-anchor="start" font-style="italic" textLength="15.50" lengthAdjust="spacingAndGlyphs">Mt2</text>
<line x1="290.80" y1="198.76" x2="293.60" y2="198.76" stroke="#231f20" stroke-width="0.9"/>
<text x="253.30" y="201.66" font-size="8.4" text-anchor="start" font-style="italic" textLength="33.90" lengthAdjust="spacingAndGlyphs">Hbb-bh1</text>
<line x1="290.80" y1="208.29" x2="293.60" y2="208.29" stroke="#231f20" stroke-width="0.9"/>
<text x="262.50" y="211.19" font-size="8.4" text-anchor="start" font-style="italic" textLength="24.70" lengthAdjust="spacingAndGlyphs">Prokr1</text>
<line x1="290.80" y1="217.83" x2="293.60" y2="217.83" stroke="#231f20" stroke-width="0.9"/>
<text x="254.10" y="220.73" font-size="8.4" text-anchor="start" font-style="italic" textLength="33.10" lengthAdjust="spacingAndGlyphs">Apol11b</text>
<line x1="290.80" y1="227.36" x2="293.60" y2="227.36" stroke="#231f20" stroke-width="0.9"/>
<text x="266.00" y="230.26" font-size="8.4" text-anchor="start" font-style="italic" textLength="21.20" lengthAdjust="spacingAndGlyphs">Apod</text>
<line x1="290.80" y1="236.90" x2="293.60" y2="236.90" stroke="#231f20" stroke-width="0.9"/>
<text x="254.10" y="239.80" font-size="8.4" text-anchor="start" font-style="italic" textLength="33.10" lengthAdjust="spacingAndGlyphs">Apol10b</text>
<line x1="290.80" y1="246.43" x2="293.60" y2="246.43" stroke="#231f20" stroke-width="0.9"/>
<text x="265.10" y="249.33" font-size="8.4" text-anchor="start" font-style="italic" textLength="22.10" lengthAdjust="spacingAndGlyphs">Clcn2</text>
<line x1="302.63" y1="251.20" x2="302.63" y2="254.00" stroke="#231f20" stroke-width="0.9"/>
<text x="302.63" y="265.00" font-size="8.4" text-anchor="middle">0</text>
<line x1="320.70" y1="251.20" x2="320.70" y2="254.00" stroke="#231f20" stroke-width="0.9"/>
<text x="320.70" y="265.00" font-size="8.4" text-anchor="middle">0</text>
<line x1="338.76" y1="251.20" x2="338.76" y2="254.00" stroke="#231f20" stroke-width="0.9"/>
<text x="338.76" y="265.00" font-size="8.4" text-anchor="middle">0</text>
<line x1="356.82" y1="251.20" x2="356.82" y2="254.00" stroke="#231f20" stroke-width="0.9"/>
<text x="356.82" y="265.00" font-size="8.4" text-anchor="middle">0</text>
<line x1="374.89" y1="251.20" x2="374.89" y2="254.00" stroke="#231f20" stroke-width="0.9"/>
<text x="374.89" y="265.00" font-size="8.4" text-anchor="middle">24</text>
<line x1="392.95" y1="251.20" x2="392.95" y2="254.00" stroke="#231f20" stroke-width="0.9"/>
<text x="392.95" y="265.00" font-size="8.4" text-anchor="middle">24</text>
<line x1="411.01" y1="251.20" x2="411.01" y2="254.00" stroke="#231f20" stroke-width="0.9"/>
<text x="411.01" y="265.00" font-size="8.4" text-anchor="middle">24</text>
<line x1="429.08" y1="251.20" x2="429.08" y2="254.00" stroke="#231f20" stroke-width="0.9"/>
<text x="429.08" y="265.00" font-size="8.4" text-anchor="middle">48</text>
<line x1="447.14" y1="251.20" x2="447.14" y2="254.00" stroke="#231f20" stroke-width="0.9"/>
<text x="447.14" y="265.00" font-size="8.4" text-anchor="middle">48</text>
<line x1="465.20" y1="251.20" x2="465.20" y2="254.00" stroke="#231f20" stroke-width="0.9"/>
<text x="465.20" y="265.00" font-size="8.4" text-anchor="middle">48</text>
<line x1="483.27" y1="251.20" x2="483.27" y2="254.00" stroke="#231f20" stroke-width="0.9"/>
<text x="483.27" y="265.00" font-size="8.4" text-anchor="middle">48</text>
<text x="393.10" y="278.70" font-size="10.2" text-anchor="middle" textLength="83.70" lengthAdjust="spacingAndGlyphs">Hours after phlebotomy</text>
<text x="393.10" y="26.00" font-size="10.0" text-anchor="middle" textLength="60.80" lengthAdjust="spacingAndGlyphs">Bone marrow</text>
<rect x="498.8" y="31.9" width="5.800000000000011" height="219.29999999999998" fill="url(#cg)" stroke="#1e1a1a" stroke-width="1.25"/>
<line x1="503.10" y1="251.20" x2="505.60" y2="251.20" stroke="#231f20" stroke-width="0.8"/>
<text x="508.00" y="253.90" font-size="8.6" text-anchor="start">0</text>
<line x1="503.10" y1="196.38" x2="505.60" y2="196.38" stroke="#231f20" stroke-width="0.8"/>
<text x="508.00" y="199.07" font-size="8.6" text-anchor="start">1</text>
<line x1="503.10" y1="141.55" x2="505.60" y2="141.55" stroke="#231f20" stroke-width="0.8"/>
<text x="508.00" y="144.25" font-size="8.6" text-anchor="start">2</text>
<line x1="503.10" y1="86.72" x2="505.60" y2="86.72" stroke="#231f20" stroke-width="0.8"/>
<text x="508.00" y="89.42" font-size="8.6" text-anchor="start">3</text>
<line x1="503.10" y1="31.90" x2="505.60" y2="31.90" stroke="#231f20" stroke-width="0.8"/>
<text x="508.00" y="34.60" font-size="8.6" text-anchor="start">4</text>
<text x="247.20" y="17.50" font-size="12" text-anchor="start" font-weight="bold" fill="#000">B</text>
<line x1="104.95" y1="392.00" x2="104.95" y2="385.30" stroke="#3a3a3a" stroke-width="0.7"/>
<line x1="103.65" y1="385.30" x2="106.25" y2="385.30" stroke="#3a3a3a" stroke-width="0.7"/>
<line x1="112.15" y1="392.10" x2="112.15" y2="388.50" stroke="#3a3a3a" stroke-width="0.7"/>
<line x1="110.85" y1="388.50" x2="113.45" y2="388.50" stroke="#3a3a3a" stroke-width="0.7"/>
<rect x="101.90" y="392.00" width="6.10" height="42.40" fill="#134e8a"/>
<rect x="109.10" y="392.10" width="6.10" height="42.30" fill="#cb0a2e"/>
<line x1="122.78" y1="361.20" x2="122.78" y2="357.50" stroke="#3a3a3a" stroke-width="0.7"/>
<line x1="121.48" y1="357.50" x2="124.08" y2="357.50" stroke="#3a3a3a" stroke-width="0.7"/>
<line x1="129.98" y1="353.80" x2="129.98" y2="350.50" stroke="#3a3a3a" stroke-width="0.7"/>
<line x1="128.68" y1="350.50" x2="131.28" y2="350.50" stroke="#3a3a3a" stroke-width="0.7"/>
<rect x="119.73" y="361.20" width="6.10" height="73.20" fill="#134e8a"/>
<rect x="126.93" y="353.80" width="6.10" height="80.60" fill="#cb0a2e"/>
<line x1="140.62" y1="373.30" x2="140.62" y2="369.50" stroke="#3a3a3a" stroke-width="0.7"/>
<line x1="139.32" y1="369.50" x2="141.92" y2="369.50" stroke="#3a3a3a" stroke-width="0.7"/>
<line x1="147.82" y1="372.00" x2="147.82" y2="369.00" stroke="#3a3a3a" stroke-width="0.7"/>
<line x1="146.52" y1="369.00" x2="149.12" y2="369.00" stroke="#3a3a3a" stroke-width="0.7"/>
<rect x="137.57" y="373.30" width="6.10" height="61.10" fill="#134e8a"/>
<rect x="144.77" y="372.00" width="6.10" height="62.40" fill="#cb0a2e"/>
<line x1="158.45" y1="372.40" x2="158.45" y2="366.40" stroke="#3a3a3a" stroke-width="0.7"/>
<line x1="157.15" y1="366.40" x2="159.75" y2="366.40" stroke="#3a3a3a" stroke-width="0.7"/>
<line x1="165.65" y1="387.00" x2="165.65" y2="384.50" stroke="#3a3a3a" stroke-width="0.7"/>
<line x1="164.35" y1="384.50" x2="166.95" y2="384.50" stroke="#3a3a3a" stroke-width="0.7"/>
<rect x="155.40" y="372.40" width="6.10" height="62.00" fill="#134e8a"/>
<rect x="162.60" y="387.00" width="6.10" height="47.40" fill="#cb0a2e"/>
<line x1="176.28" y1="387.10" x2="176.28" y2="376.30" stroke="#3a3a3a" stroke-width="0.7"/>
<line x1="174.98" y1="376.30" x2="177.58" y2="376.30" stroke="#3a3a3a" stroke-width="0.7"/>
<line x1="183.48" y1="391.10" x2="183.48" y2="387.70" stroke="#3a3a3a" stroke-width="0.7"/>
<line x1="182.18" y1="387.70" x2="184.78" y2="387.70" stroke="#3a3a3a" stroke-width="0.7"/>
<rect x="173.23" y="387.10" width="6.10" height="47.30" fill="#134e8a"/>
<rect x="180.43" y="391.10" width="6.10" height="43.30" fill="#cb0a2e"/>
<line x1="194.12" y1="386.40" x2="194.12" y2="382.20" stroke="#3a3a3a" stroke-width="0.7"/>
<line x1="192.81" y1="382.20" x2="195.42" y2="382.20" stroke="#3a3a3a" stroke-width="0.7"/>
<line x1="201.31" y1="388.90" x2="201.31" y2="385.20" stroke="#3a3a3a" stroke-width="0.7"/>
<line x1="200.01" y1="385.20" x2="202.62" y2="385.20" stroke="#3a3a3a" stroke-width="0.7"/>
<rect x="191.06" y="386.40" width="6.10" height="48.00" fill="#134e8a"/>
<rect x="198.26" y="388.90" width="6.10" height="45.50" fill="#cb0a2e"/>
<line x1="211.95" y1="389.90" x2="211.95" y2="384.10" stroke="#3a3a3a" stroke-width="0.7"/>
<line x1="210.65" y1="384.10" x2="213.25" y2="384.10" stroke="#3a3a3a" stroke-width="0.7"/>
<line x1="219.15" y1="392.60" x2="219.15" y2="386.40" stroke="#3a3a3a" stroke-width="0.7"/>
<line x1="217.85" y1="386.40" x2="220.45" y2="386.40" stroke="#3a3a3a" stroke-width="0.7"/>
<rect x="208.90" y="389.90" width="6.10" height="44.50" fill="#134e8a"/>
<rect x="216.10" y="392.60" width="6.10" height="41.80" fill="#cb0a2e"/>
<circle cx="104.90" cy="373.50" r="1.25" fill="none" stroke="#8a8a8a" stroke-width="0.65"/>
<circle cx="104.90" cy="387.70" r="1.25" fill="none" stroke="#8a8a8a" stroke-width="0.65"/>
<circle cx="104.00" cy="393.50" r="1.05" fill="#e8eaf2"/>
<circle cx="103.00" cy="395.30" r="1.05" fill="#e8eaf2"/>
<circle cx="106.50" cy="395.30" r="1.05" fill="#e8eaf2"/>
<circle cx="104.40" cy="406.00" r="1.05" fill="#e8eaf2"/>
<circle cx="112.20" cy="384.20" r="1.25" fill="none" stroke="#8a8a8a" stroke-width="0.65"/>
<circle cx="110.50" cy="387.50" r="1.25" fill="none" stroke="#8a8a8a" stroke-width="0.65"/>
<circle cx="114.80" cy="388.00" r="1.25" fill="none" stroke="#8a8a8a" stroke-width="0.65"/>
<circle cx="112.50" cy="389.70" r="1.25" fill="none" stroke="#8a8a8a" stroke-width="0.65"/>
<circle cx="112.40" cy="396.70" r="1.05" fill="#e8eaf2"/>
<circle cx="112.40" cy="403.60" r="1.05" fill="#e8eaf2"/>
<circle cx="123.00" cy="347.50" r="1.35" fill="#a8a8a8"/>
<circle cx="123.00" cy="362.30" r="1.05" fill="#e8eaf2"/>
<circle cx="123.00" cy="365.50" r="1.05" fill="#e8eaf2"/>
<circle cx="123.00" cy="368.70" r="1.05" fill="#e8eaf2"/>
<circle cx="129.90" cy="343.70" r="1.25" fill="none" stroke="#8a8a8a" stroke-width="0.65"/>
<circle cx="129.90" cy="347.50" r="1.35" fill="#a8a8a8"/>
<circle cx="129.90" cy="350.50" r="1.35" fill="#a8a8a8"/>
<circle cx="127.70" cy="357.00" r="1.05" fill="#e8eaf2"/>
<circle cx="132.00" cy="357.00" r="1.05" fill="#e8eaf2"/>
<circle cx="129.90" cy="361.60" r="1.05" fill="#e8eaf2"/>
<circle cx="140.40" cy="359.40" r="1.25" fill="none" stroke="#8a8a8a" stroke-width="0.65"/>
<circle cx="140.30" cy="369.50" r="1.25" fill="none" stroke="#8a8a8a" stroke-width="0.65"/>
<circle cx="138.00" cy="379.10" r="1.05" fill="#e8eaf2"/>
<circle cx="140.40" cy="379.10" r="1.05" fill="#e8eaf2"/>
<circle cx="142.80" cy="379.10" r="1.05" fill="#e8eaf2"/>
<circle cx="145.80" cy="366.00" r="1.25" fill="none" stroke="#8a8a8a" stroke-width="0.65"/>
<circle cx="150.20" cy="366.00" r="1.25" fill="none" stroke="#8a8a8a" stroke-width="0.65"/>
<circle cx="148.00" cy="369.50" r="1.25" fill="none" stroke="#8a8a8a" stroke-width="0.65"/>
<circle cx="145.50" cy="377.80" r="1.05" fill="#e8eaf2"/>
<circle cx="150.30" cy="377.20" r="1.05" fill="#e8eaf2"/>
<circle cx="158.40" cy="350.20" r="1.25" fill="none" stroke="#8a8a8a" stroke-width="0.65"/>
<circle cx="158.40" cy="380.90" r="1.05" fill="#e8eaf2"/>
<circle cx="158.40" cy="384.50" r="1.05" fill="#e8eaf2"/>
<circle cx="165.80" cy="381.30" r="1.35" fill="#a8a8a8"/>
<circle cx="165.80" cy="392.10" r="1.05" fill="#e8eaf2"/>
<circle cx="176.20" cy="346.20" r="1.25" fill="none" stroke="#8a8a8a" stroke-width="0.65"/>
<circle cx="176.20" cy="392.40" r="1.05" fill="#e8eaf2"/>
<circle cx="176.20" cy="395.60" r="1.05" fill="#e8eaf2"/>
<circle cx="174.20" cy="401.00" r="1.05" fill="#e8eaf2"/>
<circle cx="178.50" cy="399.00" r="1.05" fill="#e8eaf2"/>
<circle cx="183.60" cy="380.30" r="1.25" fill="none" stroke="#8a8a8a" stroke-width="0.65"/>
<circle cx="181.50" cy="387.50" r="1.25" fill="none" stroke="#8a8a8a" stroke-width="0.65"/>
<circle cx="184.60" cy="388.00" r="1.25" fill="none" stroke="#8a8a8a" stroke-width="0.65"/>
<circle cx="186.50" cy="388.60" r="1.25" fill="none" stroke="#8a8a8a" stroke-width="0.65"/>
<circle cx="183.60" cy="392.00" r="1.05" fill="#e8eaf2"/>
<circle cx="183.60" cy="396.00" r="1.05" fill="#e8eaf2"/>
<circle cx="183.60" cy="402.00" r="1.05" fill="#e8eaf2"/>
<circle cx="191.50" cy="377.90" r="1.25" fill="none" stroke="#8a8a8a" stroke-width="0.65"/>
<circle cx="194.00" cy="378.20" r="1.25" fill="none" stroke="#8a8a8a" stroke-width="0.65"/>
<circle cx="196.50" cy="379.00" r="1.25" fill="none" stroke="#8a8a8a" stroke-width="0.65"/>
<circle cx="194.20" cy="388.60" r="1.05" fill="#e8eaf2"/>
<circle cx="193.00" cy="396.00" r="1.05" fill="#e8eaf2"/>
<circle cx="195.50" cy="396.00" r="1.05" fill="#e8eaf2"/>
<circle cx="201.40" cy="375.30" r="1.25" fill="none" stroke="#8a8a8a" stroke-width="0.65"/>
<circle cx="201.40" cy="378.80" r="1.25" fill="none" stroke="#8a8a8a" stroke-width="0.65"/>
<circle cx="201.40" cy="390.00" r="1.05" fill="#e8eaf2"/>
<circle cx="201.40" cy="396.50" r="1.05" fill="#e8eaf2"/>
<circle cx="201.40" cy="400.00" r="1.05" fill="#e8eaf2"/>
<circle cx="212.20" cy="371.40" r="1.25" fill="none" stroke="#8a8a8a" stroke-width="0.65"/>
<circle cx="212.20" cy="387.00" r="1.25" fill="none" stroke="#8a8a8a" stroke-width="0.65"/>
<circle cx="209.80" cy="394.40" r="1.05" fill="#e8eaf2"/>
<circle cx="214.20" cy="394.80" r="1.05" fill="#e8eaf2"/>
<circle cx="212.20" cy="398.90" r="1.05" fill="#e8eaf2"/>
<circle cx="219.40" cy="368.10" r="1.25" fill="none" stroke="#8a8a8a" stroke-width="0.65"/>
<circle cx="217.50" cy="396.70" r="1.05" fill="#e8eaf2"/>
<circle cx="220.50" cy="395.50" r="1.05" fill="#e8eaf2"/>
<circle cx="219.40" cy="400.50" r="1.05" fill="#e8eaf2"/>
<circle cx="219.40" cy="404.40" r="1.05" fill="#e8eaf2"/>
<rect x="121.00" y="326.70" width="2.4" height="2.2" fill="#c9d5ee" opacity="0.55"/>
<rect x="121.40" y="327.00" width="1.6" height="1.6" fill="#34476e" opacity="0.9"/>
<rect x="121.00" y="330.10" width="2.4" height="2.2" fill="#c9d5ee" opacity="0.55"/>
<rect x="121.40" y="330.40" width="1.6" height="1.6" fill="#34476e" opacity="0.9"/>
<rect x="121.00" y="333.30" width="2.4" height="2.2" fill="#c9d5ee" opacity="0.55"/>
<rect x="121.40" y="333.60" width="1.6" height="1.6" fill="#34476e" opacity="0.9"/>
<rect x="121.00" y="336.50" width="2.4" height="2.2" fill="#c9d5ee" opacity="0.55"/>
<rect x="121.40" y="336.80" width="1.6" height="1.6" fill="#34476e" opacity="0.9"/>
<rect x="128.70" y="327.30" width="2.4" height="2.2" fill="#f6c4cc" opacity="0.55"/>
<rect x="129.10" y="327.60" width="1.6" height="1.6" fill="#7e3044" opacity="0.9"/>
<rect x="128.70" y="330.50" width="2.4" height="2.2" fill="#f6c4cc" opacity="0.55"/>
<rect x="129.10" y="330.80" width="1.6" height="1.6" fill="#7e3044" opacity="0.9"/>
<rect x="128.70" y="333.70" width="2.4" height="2.2" fill="#f6c4cc" opacity="0.55"/>
<rect x="129.10" y="334.00" width="1.6" height="1.6" fill="#7e3044" opacity="0.9"/>
<rect x="128.70" y="336.90" width="2.4" height="2.2" fill="#f6c4cc" opacity="0.55"/>
<rect x="129.10" y="337.20" width="1.6" height="1.6" fill="#7e3044" opacity="0.9"/>
<rect x="136.40" y="353.50" width="2.4" height="2.2" fill="#c9d5ee" opacity="0.55"/>
<rect x="136.80" y="353.80" width="1.6" height="1.6" fill="#34476e" opacity="0.9"/>
<rect x="139.20" y="353.50" width="2.4" height="2.2" fill="#c9d5ee" opacity="0.55"/>
<rect x="139.60" y="353.80" width="1.6" height="1.6" fill="#34476e" opacity="0.9"/>
<rect x="142.30" y="353.50" width="2.4" height="2.2" fill="#c9d5ee" opacity="0.55"/>
<rect x="142.70" y="353.80" width="1.6" height="1.6" fill="#34476e" opacity="0.9"/>
<rect x="143.20" y="359.90" width="2.4" height="2.2" fill="#f6c4cc" opacity="0.55"/>
<rect x="143.60" y="360.20" width="1.6" height="1.6" fill="#7e3044" opacity="0.9"/>
<rect x="146.10" y="359.90" width="2.4" height="2.2" fill="#f6c4cc" opacity="0.55"/>
<rect x="146.50" y="360.20" width="1.6" height="1.6" fill="#7e3044" opacity="0.9"/>
<rect x="149.10" y="359.90" width="2.4" height="2.2" fill="#f6c4cc" opacity="0.55"/>
<rect x="149.50" y="360.20" width="1.6" height="1.6" fill="#7e3044" opacity="0.9"/>
<rect x="157.20" y="343.00" width="2.4" height="2.2" fill="#c9d5ee" opacity="0.55"/>
<rect x="157.60" y="343.30" width="1.6" height="1.6" fill="#34476e" opacity="0.9"/>
<rect x="164.60" y="373.80" width="2.4" height="2.2" fill="#f6c4cc" opacity="0.55"/>
<rect x="165.00" y="374.10" width="1.6" height="1.6" fill="#7e3044" opacity="0.9"/>
<line x1="98.40" y1="322.00" x2="98.40" y2="435.00" stroke="#231f20" stroke-width="1.1"/>
<line x1="97.90" y1="434.40" x2="225.80" y2="434.40" stroke="#231f20" stroke-width="1.1"/>
<line x1="95.20" y1="434.30" x2="98.40" y2="434.30" stroke="#231f20" stroke-width="0.9"/>
<text x="92.00" y="437.30" font-size="8.6" text-anchor="end">0</text>
<line x1="95.20" y1="418.75" x2="98.40" y2="418.75" stroke="#231f20" stroke-width="0.9"/>
<text x="92.00" y="421.75" font-size="8.6" text-anchor="end">1</text>
<line x1="95.20" y1="403.20" x2="98.40" y2="403.20" stroke="#231f20" stroke-width="0.9"/>
<text x="92.00" y="406.20" font-size="8.6" text-anchor="end">2</text>
<line x1="95.20" y1="387.65" x2="98.40" y2="387.65" stroke="#231f20" stroke-width="0.9"/>
<text x="92.00" y="390.65" font-size="8.6" text-anchor="end">3</text>
<line x1="95.20" y1="372.10" x2="98.40" y2="372.10" stroke="#231f20" stroke-width="0.9"/>
<text x="92.00" y="375.10" font-size="8.6" text-anchor="end">4</text>
<line x1="95.20" y1="356.55" x2="98.40" y2="356.55" stroke="#231f20" stroke-width="0.9"/>
<text x="92.00" y="359.55" font-size="8.6" text-anchor="end">5</text>
<line x1="95.20" y1="341.00" x2="98.40" y2="341.00" stroke="#231f20" stroke-width="0.9"/>
<text x="92.00" y="344.00" font-size="8.6" text-anchor="end">6</text>
<line x1="95.20" y1="325.45" x2="98.40" y2="325.45" stroke="#231f20" stroke-width="0.9"/>
<text x="92.00" y="328.45" font-size="8.6" text-anchor="end">7</text>
<line x1="108.50" y1="434.40" x2="108.50" y2="437.20" stroke="#231f20" stroke-width="0.9"/>
<text x="108.50" y="448.30" font-size="8.6" text-anchor="middle">0</text>
<line x1="126.33" y1="434.40" x2="126.33" y2="437.20" stroke="#231f20" stroke-width="0.9"/>
<text x="126.33" y="448.30" font-size="8.6" text-anchor="middle">1</text>
<line x1="144.17" y1="434.40" x2="144.17" y2="437.20" stroke="#231f20" stroke-width="0.9"/>
<text x="144.17" y="448.30" font-size="8.6" text-anchor="middle">2</text>
<line x1="162.00" y1="434.40" x2="162.00" y2="437.20" stroke="#231f20" stroke-width="0.9"/>
<text x="162.00" y="448.30" font-size="8.6" text-anchor="middle">3</text>
<line x1="179.83" y1="434.40" x2="179.83" y2="437.20" stroke="#231f20" stroke-width="0.9"/>
<text x="179.83" y="448.30" font-size="8.6" text-anchor="middle">4</text>
<line x1="197.66" y1="434.40" x2="197.66" y2="437.20" stroke="#231f20" stroke-width="0.9"/>
<text x="197.66" y="448.30" font-size="8.6" text-anchor="middle">5</text>
<line x1="215.50" y1="434.40" x2="215.50" y2="437.20" stroke="#231f20" stroke-width="0.9"/>
<text x="215.50" y="448.30" font-size="8.6" text-anchor="middle">6</text>
<text x="162.20" y="462.00" font-size="10.2" text-anchor="middle" textLength="80.50" lengthAdjust="spacingAndGlyphs">Days after phlebotomy</text>
<text x="137.25" y="308.8" font-size="10" textLength="49.7" lengthAdjust="spacingAndGlyphs"><tspan font-style="italic">Fgl1</tspan> - Liver</text>
<text transform="translate(81.8,378.0) rotate(-90) scale(0.74,1)" font-size="10.5" text-anchor="middle">-ΔCt</text>
<text x="71.40" y="298.20" font-size="12" text-anchor="start" font-weight="bold" fill="#000">C</text>
<line x1="328.75" y1="409.60" x2="328.75" y2="401.50" stroke="#3a3a3a" stroke-width="0.7"/>
<line x1="327.45" y1="401.50" x2="330.05" y2="401.50" stroke="#3a3a3a" stroke-width="0.7"/>
<line x1="335.95" y1="413.80" x2="335.95" y2="411.50" stroke="#3a3a3a" stroke-width="0.7"/>
<line x1="334.65" y1="411.50" x2="337.25" y2="411.50" stroke="#3a3a3a" stroke-width="0.7"/>
<rect x="325.70" y="409.60" width="6.10" height="24.70" fill="#134e8a"/>
<rect x="332.90" y="413.80" width="6.10" height="20.50" fill="#cb0a2e"/>
<line x1="346.58" y1="364.30" x2="346.58" y2="360.50" stroke="#3a3a3a" stroke-width="0.7"/>
<line x1="345.28" y1="360.50" x2="347.88" y2="360.50" stroke="#3a3a3a" stroke-width="0.7"/>
<line x1="353.78" y1="370.50" x2="353.78" y2="367.00" stroke="#3a3a3a" stroke-width="0.7"/>
<line x1="352.48" y1="367.00" x2="355.08" y2="367.00" stroke="#3a3a3a" stroke-width="0.7"/>
<rect x="343.53" y="364.30" width="6.10" height="70.00" fill="#134e8a"/>
<rect x="350.73" y="370.50" width="6.10" height="63.80" fill="#cb0a2e"/>
<line x1="364.42" y1="362.00" x2="364.42" y2="354.90" stroke="#3a3a3a" stroke-width="0.7"/>
<line x1="363.12" y1="354.90" x2="365.72" y2="354.90" stroke="#3a3a3a" stroke-width="0.7"/>
<line x1="371.62" y1="369.90" x2="371.62" y2="366.50" stroke="#3a3a3a" stroke-width="0.7"/>
<line x1="370.32" y1="366.50" x2="372.92" y2="366.50" stroke="#3a3a3a" stroke-width="0.7"/>
<rect x="361.37" y="362.00" width="6.10" height="72.30" fill="#134e8a"/>
<rect x="368.57" y="369.90" width="6.10" height="64.40" fill="#cb0a2e"/>
<line x1="382.25" y1="391.90" x2="382.25" y2="386.00" stroke="#3a3a3a" stroke-width="0.7"/>
<line x1="380.95" y1="386.00" x2="383.55" y2="386.00" stroke="#3a3a3a" stroke-width="0.7"/>
<line x1="389.45" y1="386.80" x2="389.45" y2="383.50" stroke="#3a3a3a" stroke-width="0.7"/>
<line x1="388.15" y1="383.50" x2="390.75" y2="383.50" stroke="#3a3a3a" stroke-width="0.7"/>
<rect x="379.20" y="391.90" width="6.10" height="42.40" fill="#134e8a"/>
<rect x="386.40" y="386.80" width="6.10" height="47.50" fill="#cb0a2e"/>
<line x1="400.08" y1="401.40" x2="400.08" y2="394.60" stroke="#3a3a3a" stroke-width="0.7"/>
<line x1="398.78" y1="394.60" x2="401.38" y2="394.60" stroke="#3a3a3a" stroke-width="0.7"/>
<line x1="407.28" y1="399.80" x2="407.28" y2="389.20" stroke="#3a3a3a" stroke-width="0.7"/>
<line x1="405.98" y1="389.20" x2="408.58" y2="389.20" stroke="#3a3a3a" stroke-width="0.7"/>
<rect x="397.03" y="401.40" width="6.10" height="32.90" fill="#134e8a"/>
<rect x="404.23" y="399.80" width="6.10" height="34.50" fill="#cb0a2e"/>
<line x1="417.92" y1="394.30" x2="417.92" y2="385.50" stroke="#3a3a3a" stroke-width="0.7"/>
<line x1="416.62" y1="385.50" x2="419.22" y2="385.50" stroke="#3a3a3a" stroke-width="0.7"/>
<line x1="425.12" y1="405.10" x2="425.12" y2="401.50" stroke="#3a3a3a" stroke-width="0.7"/>
<line x1="423.82" y1="401.50" x2="426.42" y2="401.50" stroke="#3a3a3a" stroke-width="0.7"/>
<rect x="414.87" y="394.30" width="6.10" height="40.00" fill="#134e8a"/>
<rect x="422.07" y="405.10" width="6.10" height="29.20" fill="#cb0a2e"/>
<line x1="435.75" y1="396.70" x2="435.75" y2="389.50" stroke="#3a3a3a" stroke-width="0.7"/>
<line x1="434.45" y1="389.50" x2="437.05" y2="389.50" stroke="#3a3a3a" stroke-width="0.7"/>
<line x1="442.95" y1="405.70" x2="442.95" y2="404.00" stroke="#3a3a3a" stroke-width="0.7"/>
<line x1="441.65" y1="404.00" x2="444.25" y2="404.00" stroke="#3a3a3a" stroke-width="0.7"/>
<rect x="432.70" y="396.70" width="6.10" height="37.60" fill="#134e8a"/>
<rect x="439.90" y="405.70" width="6.10" height="28.60" fill="#cb0a2e"/>
<circle cx="328.30" cy="396.50" r="1.25" fill="none" stroke="#8a8a8a" stroke-width="0.65"/>
<circle cx="328.30" cy="401.60" r="1.25" fill="none" stroke="#8a8a8a" stroke-width="0.65"/>
<circle cx="328.30" cy="404.50" r="1.25" fill="none" stroke="#8a8a8a" stroke-width="0.65"/>
<circle cx="328.50" cy="411.60" r="1.05" fill="#e8eaf2"/>
<circle cx="328.50" cy="415.30" r="1.05" fill="#e8eaf2"/>
<circle cx="328.50" cy="428.20" r="1.05" fill="#e8eaf2"/>
<circle cx="335.60" cy="396.50" r="1.25" fill="none" stroke="#8a8a8a" stroke-width="0.65"/>
<circle cx="335.60" cy="411.00" r="1.25" fill="none" stroke="#8a8a8a" stroke-width="0.65"/>
<circle cx="334.50" cy="417.00" r="1.05" fill="#e8eaf2"/>
<circle cx="337.00" cy="417.00" r="1.05" fill="#e8eaf2"/>
<circle cx="344.30" cy="359.20" r="1.25" fill="none" stroke="#8a8a8a" stroke-width="0.65"/>
<circle cx="348.60" cy="359.20" r="1.25" fill="none" stroke="#8a8a8a" stroke-width="0.65"/>
<circle cx="346.50" cy="362.50" r="1.25" fill="none" stroke="#8a8a8a" stroke-width="0.65"/>
<circle cx="345.50" cy="366.00" r="1.05" fill="#e8eaf2"/>
<circle cx="348.00" cy="366.00" r="1.05" fill="#e8eaf2"/>
<circle cx="353.70" cy="363.00" r="1.25" fill="none" stroke="#8a8a8a" stroke-width="0.65"/>
<circle cx="353.70" cy="366.00" r="1.25" fill="none" stroke="#8a8a8a" stroke-width="0.65"/>
<circle cx="352.50" cy="374.00" r="1.05" fill="#e8eaf2"/>
<circle cx="355.50" cy="374.00" r="1.05" fill="#e8eaf2"/>
<circle cx="364.50" cy="332.10" r="1.25" fill="none" stroke="#8a8a8a" stroke-width="0.65"/>
<circle cx="362.00" cy="359.00" r="1.25" fill="none" stroke="#8a8a8a" stroke-width="0.65"/>
<circle cx="367.00" cy="359.00" r="1.25" fill="none" stroke="#8a8a8a" stroke-width="0.65"/>
<circle cx="364.40" cy="366.00" r="1.05" fill="#e8eaf2"/>
<circle cx="364.40" cy="372.00" r="1.05" fill="#e8eaf2"/>
<circle cx="364.40" cy="380.00" r="1.05" fill="#e8eaf2"/>
<circle cx="369.60" cy="364.50" r="1.25" fill="none" stroke="#8a8a8a" stroke-width="0.65"/>
<circle cx="373.50" cy="365.20" r="1.25" fill="none" stroke="#8a8a8a" stroke-width="0.65"/>
<circle cx="370.50" cy="373.00" r="1.05" fill="#e8eaf2"/>
<circle cx="373.50" cy="373.00" r="1.05" fill="#e8eaf2"/>
<circle cx="382.20" cy="374.20" r="1.25" fill="none" stroke="#8a8a8a" stroke-width="0.65"/>
<circle cx="382.40" cy="398.00" r="1.05" fill="#e8eaf2"/>
<circle cx="382.40" cy="406.00" r="1.05" fill="#e8eaf2"/>
<circle cx="389.50" cy="378.00" r="1.25" fill="none" stroke="#8a8a8a" stroke-width="0.65"/>
<circle cx="389.50" cy="381.00" r="1.25" fill="none" stroke="#8a8a8a" stroke-width="0.65"/>
<circle cx="388.00" cy="390.00" r="1.05" fill="#e8eaf2"/>
<circle cx="390.50" cy="392.00" r="1.05" fill="#e8eaf2"/>
<circle cx="389.50" cy="398.00" r="1.05" fill="#e8eaf2"/>
<circle cx="400.00" cy="375.50" r="1.35" fill="#a8a8a8"/>
<circle cx="400.00" cy="397.50" r="1.25" fill="none" stroke="#8a8a8a" stroke-width="0.65"/>
<circle cx="400.00" cy="405.50" r="1.05" fill="#e8eaf2"/>
<circle cx="400.00" cy="409.00" r="1.05" fill="#e8eaf2"/>
<circle cx="400.00" cy="417.00" r="1.05" fill="#e8eaf2"/>
<circle cx="407.30" cy="380.30" r="1.25" fill="none" stroke="#8a8a8a" stroke-width="0.65"/>
<circle cx="407.30" cy="383.50" r="1.25" fill="none" stroke="#8a8a8a" stroke-width="0.65"/>
<circle cx="405.50" cy="417.00" r="1.05" fill="#e8eaf2"/>
<circle cx="409.00" cy="417.00" r="1.05" fill="#e8eaf2"/>
<circle cx="417.60" cy="362.20" r="1.25" fill="none" stroke="#8a8a8a" stroke-width="0.65"/>
<circle cx="417.60" cy="376.80" r="1.35" fill="#a8a8a8"/>
<circle cx="417.60" cy="398.50" r="1.05" fill="#e8eaf2"/>
<circle cx="417.60" cy="401.50" r="1.05" fill="#e8eaf2"/>
<circle cx="417.60" cy="409.40" r="1.05" fill="#e8eaf2"/>
<circle cx="417.60" cy="415.30" r="1.05" fill="#e8eaf2"/>
<circle cx="425.00" cy="395.90" r="1.25" fill="none" stroke="#8a8a8a" stroke-width="0.65"/>
<circle cx="425.00" cy="398.50" r="1.25" fill="none" stroke="#8a8a8a" stroke-width="0.65"/>
<circle cx="425.00" cy="401.00" r="1.25" fill="none" stroke="#8a8a8a" stroke-width="0.65"/>
<circle cx="425.00" cy="406.50" r="1.05" fill="#e8eaf2"/>
<circle cx="425.00" cy="418.00" r="1.05" fill="#e8eaf2"/>
<circle cx="435.60" cy="369.60" r="1.25" fill="none" stroke="#8a8a8a" stroke-width="0.65"/>
<circle cx="433.50" cy="400.50" r="1.05" fill="#e8eaf2"/>
<circle cx="437.50" cy="400.50" r="1.05" fill="#e8eaf2"/>
<circle cx="433.50" cy="406.00" r="1.05" fill="#e8eaf2"/>
<circle cx="437.50" cy="406.00" r="1.05" fill="#e8eaf2"/>
<circle cx="440.80" cy="403.50" r="1.25" fill="none" stroke="#8a8a8a" stroke-width="0.65"/>
<circle cx="443.00" cy="404.50" r="1.25" fill="none" stroke="#8a8a8a" stroke-width="0.65"/>
<circle cx="443.00" cy="409.00" r="1.05" fill="#e8eaf2"/>
<rect x="345.60" y="339.00" width="2.4" height="2.2" fill="#c9d5ee" opacity="0.55"/>
<rect x="346.00" y="339.30" width="1.6" height="1.6" fill="#34476e" opacity="0.9"/>
<rect x="345.60" y="342.30" width="2.4" height="2.2" fill="#c9d5ee" opacity="0.55"/>
<rect x="346.00" y="342.60" width="1.6" height="1.6" fill="#34476e" opacity="0.9"/>
<rect x="345.60" y="345.40" width="2.4" height="2.2" fill="#c9d5ee" opacity="0.55"/>
<rect x="346.00" y="345.70" width="1.6" height="1.6" fill="#34476e" opacity="0.9"/>
<rect x="345.60" y="348.70" width="2.4" height="2.2" fill="#c9d5ee" opacity="0.55"/>
<rect x="346.00" y="349.00" width="1.6" height="1.6" fill="#34476e" opacity="0.9"/>
<rect x="352.50" y="339.70" width="2.4" height="2.2" fill="#f6c4cc" opacity="0.55"/>
<rect x="352.90" y="340.00" width="1.6" height="1.6" fill="#7e3044" opacity="0.9"/>
<rect x="352.50" y="342.90" width="2.4" height="2.2" fill="#f6c4cc" opacity="0.55"/>
<rect x="352.90" y="343.20" width="1.6" height="1.6" fill="#7e3044" opacity="0.9"/>
<rect x="352.50" y="346.10" width="2.4" height="2.2" fill="#f6c4cc" opacity="0.55"/>
<rect x="352.90" y="346.40" width="1.6" height="1.6" fill="#7e3044" opacity="0.9"/>
<rect x="352.50" y="349.50" width="2.4" height="2.2" fill="#f6c4cc" opacity="0.55"/>
<rect x="352.90" y="349.80" width="1.6" height="1.6" fill="#7e3044" opacity="0.9"/>
<rect x="363.40" y="316.90" width="2.4" height="2.2" fill="#c9d5ee" opacity="0.55"/>
<rect x="363.80" y="317.20" width="1.6" height="1.6" fill="#34476e" opacity="0.9"/>
<rect x="363.40" y="319.90" width="2.4" height="2.2" fill="#c9d5ee" opacity="0.55"/>
<rect x="363.80" y="320.20" width="1.6" height="1.6" fill="#34476e" opacity="0.9"/>
<rect x="363.40" y="322.90" width="2.4" height="2.2" fill="#c9d5ee" opacity="0.55"/>
<rect x="363.80" y="323.20" width="1.6" height="1.6" fill="#34476e" opacity="0.9"/>
<rect x="363.40" y="325.80" width="2.4" height="2.2" fill="#c9d5ee" opacity="0.55"/>
<rect x="363.80" y="326.10" width="1.6" height="1.6" fill="#34476e" opacity="0.9"/>
<rect x="370.80" y="347.70" width="2.4" height="2.2" fill="#f6c4cc" opacity="0.55"/>
<rect x="371.20" y="348.00" width="1.6" height="1.6" fill="#7e3044" opacity="0.9"/>
<rect x="370.80" y="350.70" width="2.4" height="2.2" fill="#f6c4cc" opacity="0.55"/>
<rect x="371.20" y="351.00" width="1.6" height="1.6" fill="#7e3044" opacity="0.9"/>
<rect x="370.80" y="353.80" width="2.4" height="2.2" fill="#f6c4cc" opacity="0.55"/>
<rect x="371.20" y="354.10" width="1.6" height="1.6" fill="#7e3044" opacity="0.9"/>
<rect x="370.80" y="356.80" width="2.4" height="2.2" fill="#f6c4cc" opacity="0.55"/>
<rect x="371.20" y="357.10" width="1.6" height="1.6" fill="#7e3044" opacity="0.9"/>
<rect x="381.00" y="362.00" width="2.4" height="2.2" fill="#c9d5ee" opacity="0.55"/>
<rect x="381.40" y="362.30" width="1.6" height="1.6" fill="#34476e" opacity="0.9"/>
<rect x="381.00" y="365.60" width="2.4" height="2.2" fill="#c9d5ee" opacity="0.55"/>
<rect x="381.40" y="365.90" width="1.6" height="1.6" fill="#34476e" opacity="0.9"/>
<rect x="381.00" y="368.90" width="2.4" height="2.2" fill="#c9d5ee" opacity="0.55"/>
<rect x="381.40" y="369.20" width="1.6" height="1.6" fill="#34476e" opacity="0.9"/>
<rect x="387.70" y="361.30" width="2.4" height="2.2" fill="#f6c4cc" opacity="0.55"/>
<rect x="388.10" y="361.60" width="1.6" height="1.6" fill="#7e3044" opacity="0.9"/>
<rect x="387.70" y="364.40" width="2.4" height="2.2" fill="#f6c4cc" opacity="0.55"/>
<rect x="388.10" y="364.70" width="1.6" height="1.6" fill="#7e3044" opacity="0.9"/>
<rect x="387.70" y="367.70" width="2.4" height="2.2" fill="#f6c4cc" opacity="0.55"/>
<rect x="388.10" y="368.00" width="1.6" height="1.6" fill="#7e3044" opacity="0.9"/>
<line x1="322.20" y1="314.70" x2="322.20" y2="434.70" stroke="#231f20" stroke-width="1.1"/>
<line x1="321.70" y1="434.30" x2="449.00" y2="434.30" stroke="#231f20" stroke-width="1.1"/>
<line x1="318.80" y1="317.50" x2="322.20" y2="317.50" stroke="#231f20" stroke-width="0.9"/>
<text x="315.20" y="320.50" font-size="8.6" text-anchor="end">–4</text>
<line x1="318.80" y1="329.18" x2="322.20" y2="329.18" stroke="#231f20" stroke-width="0.9"/>
<text x="315.20" y="332.18" font-size="8.6" text-anchor="end">–5</text>
<line x1="318.80" y1="340.85" x2="322.20" y2="340.85" stroke="#231f20" stroke-width="0.9"/>
<text x="315.20" y="343.85" font-size="8.6" text-anchor="end">–6</text>
<line x1="318.80" y1="352.52" x2="322.20" y2="352.52" stroke="#231f20" stroke-width="0.9"/>
<text x="315.20" y="355.52" font-size="8.6" text-anchor="end">–7</text>
<line x1="318.80" y1="364.20" x2="322.20" y2="364.20" stroke="#231f20" stroke-width="0.9"/>
<text x="315.20" y="367.20" font-size="8.6" text-anchor="end">–8</text>
<line x1="318.80" y1="375.88" x2="322.20" y2="375.88" stroke="#231f20" stroke-width="0.9"/>
<text x="315.20" y="378.88" font-size="8.6" text-anchor="end">–9</text>
<line x1="318.80" y1="387.55" x2="322.20" y2="387.55" stroke="#231f20" stroke-width="0.9"/>
<text x="315.20" y="390.55" font-size="8.6" text-anchor="end">–10</text>
<line x1="318.80" y1="399.23" x2="322.20" y2="399.23" stroke="#231f20" stroke-width="0.9"/>
<text x="315.20" y="402.23" font-size="8.6" text-anchor="end">–11</text>
<line x1="318.80" y1="410.90" x2="322.20" y2="410.90" stroke="#231f20" stroke-width="0.9"/>
<text x="315.20" y="413.90" font-size="8.6" text-anchor="end">–12</text>
<line x1="318.80" y1="422.57" x2="322.20" y2="422.57" stroke="#231f20" stroke-width="0.9"/>
<text x="315.20" y="425.57" font-size="8.6" text-anchor="end">–13</text>
<line x1="318.80" y1="434.25" x2="322.20" y2="434.25" stroke="#231f20" stroke-width="0.9"/>
<text x="315.20" y="437.25" font-size="8.6" text-anchor="end">–14</text>
<line x1="332.30" y1="434.30" x2="332.30" y2="437.20" stroke="#231f20" stroke-width="0.9"/>
<text x="332.30" y="448.30" font-size="8.6" text-anchor="middle">0</text>
<line x1="350.13" y1="434.30" x2="350.13" y2="437.20" stroke="#231f20" stroke-width="0.9"/>
<text x="350.13" y="448.30" font-size="8.6" text-anchor="middle">1</text>
<line x1="367.97" y1="434.30" x2="367.97" y2="437.20" stroke="#231f20" stroke-width="0.9"/>
<text x="367.97" y="448.30" font-size="8.6" text-anchor="middle">2</text>
<line x1="385.80" y1="434.30" x2="385.80" y2="437.20" stroke="#231f20" stroke-width="0.9"/>
<text x="385.80" y="448.30" font-size="8.6" text-anchor="middle">3</text>
<line x1="403.63" y1="434.30" x2="403.63" y2="437.20" stroke="#231f20" stroke-width="0.9"/>
<text x="403.63" y="448.30" font-size="8.6" text-anchor="middle">4</text>
<line x1="421.47" y1="434.30" x2="421.47" y2="437.20" stroke="#231f20" stroke-width="0.9"/>
<text x="421.47" y="448.30" font-size="8.6" text-anchor="middle">5</text>
<line x1="439.30" y1="434.30" x2="439.30" y2="437.20" stroke="#231f20" stroke-width="0.9"/>
<text x="439.30" y="448.30" font-size="8.6" text-anchor="middle">6</text>
<text x="386.00" y="461.30" font-size="10.2" text-anchor="middle" textLength="80.50" lengthAdjust="spacingAndGlyphs">Days after phlebotomy</text>
<text x="340.75" y="308.9" font-size="10" textLength="90" lengthAdjust="spacingAndGlyphs"><tspan font-style="italic">Fgl1</tspan> - Bone marrow</text>
<text transform="translate(296.2,374.4) rotate(-90) scale(0.74,1)" font-size="10.5" text-anchor="middle">-ΔCt</text>
<text x="285.20" y="298.20" font-size="12" text-anchor="start" font-weight="bold" fill="#000">D</text>
<rect x="0.5" y="0.5" width="519" height="471" fill="none" stroke="#555" stroke-width="1"/>
<line x1="0" y1="0.5" x2="520" y2="0.5" stroke="#7a7a7a" stroke-width="1"/>
</svg>
</body></html>
